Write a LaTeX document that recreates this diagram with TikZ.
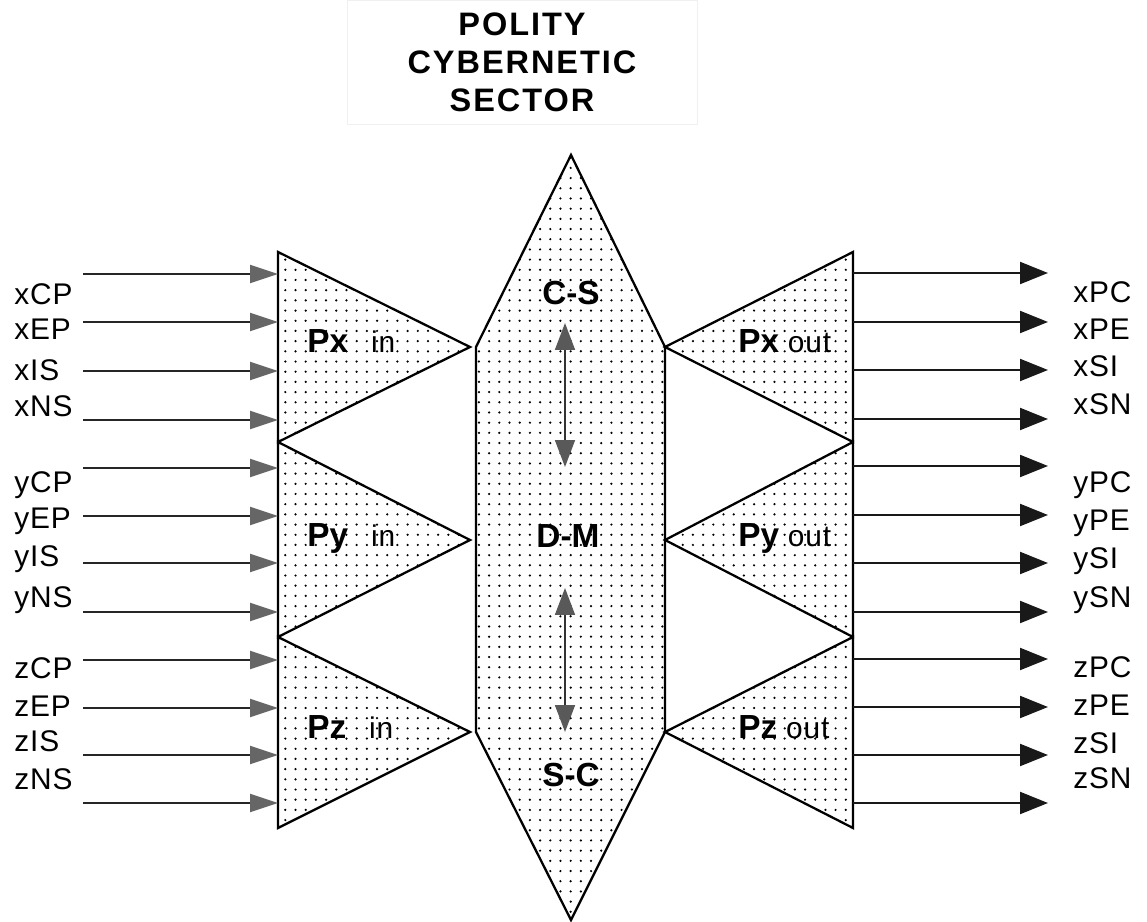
\documentclass[tikz,border=0pt]{standalone}
\usepackage{fontspec}
\setmainfont{Liberation Sans}
\newfontfamily\titlefont[LetterSpace=6]{Liberation Sans}
\newfontfamily\lblfont[LetterSpace=3]{Liberation Sans}
\usetikzlibrary{arrows.meta,patterns.meta}
\newcommand{\tagbf}[1]{{\fontsize{19}{22}\selectfont\bfseries #1}}
\newcommand{\tagsub}[1]{{\lblfont\fontsize{17}{20}\selectfont #1}}

\begin{document}
\begin{tikzpicture}[
    x=0.02cm, y=-0.02cm,
    dotshape/.style={draw=black, line width=1.3pt, line join=miter, pattern={Dots[distance=5.8pt, radius=0.7pt]}, pattern color=black},
    sig/.style={font=\lblfont\fontsize{17}{20}\selectfont, anchor=base west, inner sep=0pt},
    tag/.style={font=\bfseries\fontsize{19}{22}\selectfont, inner sep=0pt},
    stagelbl/.style={anchor=base west, inner sep=0pt},
    titlebox/.style={draw=black!6, minimum width=7cm, minimum height=2.48cm, align=center, font=\titlefont\bfseries\fontsize{18.5}{21.6}\selectfont},
    inarrow/.style={line width=1.2pt, draw=black!85, -{Triangle[length=0.56cm, width=0.36cm, color=black!60]}},
    outarrow/.style={line width=1.2pt, draw=black!90, -{Triangle[length=0.56cm, width=0.44cm]}},
    linkarrow/.style={line width=1pt, draw=black!80, {Triangle[length=0.54cm, width=0.4cm, color=black!65]}-{Triangle[length=0.54cm, width=0.4cm, color=black!65]}}
]
\useasboundingbox (0,0) rectangle (1147,922);

% Title
\node[titlebox] (title) at (522,62) {POLITY\\CYBERNETIC\\SECTOR};

% Central decision body
\draw[dotshape] (571,155) -- (665,347) -- (665,732) -- (571,920) -- (476,732) -- (476,347) -- cycle;

% Input and output stages
\foreach \t/\m/\b in {252/347/442, 442/540/637, 637/732/828}
{
  \draw[dotshape] (278,\t) -- (470,\m) -- (278,\b) -- cycle;
  \draw[dotshape] (853,\t) -- (665,\m) -- (853,\b) -- cycle;
}

\foreach \g/\yb in {x/353, y/546, z/738}
{
  \node[stagelbl] (P\g in) at (307,\yb) {\tagbf{P\g}\hspace{13pt}\tagsub{in}};
  \node[stagelbl] (P\g out) at (738,\yb) {\tagbf{P\g}\hspace{5pt}\tagsub{out}};
}

% Central labels
\node[tag] (cs) at (571,293) {C-S};
\node[tag] (dm) at (568,536) {D-M};
\node[tag] (sc) at (571,775) {S-C};

\coordinate (cs-a) at (565,323);
\coordinate (cs-b) at (565,467);
\coordinate (sc-a) at (565,588);
\coordinate (sc-b) at (565,732);
\draw[linkarrow] (cs-a) -- (cs-b);
\draw[linkarrow] (sc-a) -- (sc-b);

% Inputs
\foreach \nm/\ya/\yb in {xCP/274/305, xEP/322/340, xIS/371/380, xNS/420/417,
                         yCP/468/492, yEP/516/528, yIS/563/566, yNS/612/607,
                         zCP/660/678, zEP/708/716, zIS/755/751, zNS/803/789}
{
  \node[sig] (\nm) at (14,\yb) {\nm};
  \coordinate (\nm-s) at (83,\ya);
  \coordinate (\nm-e) at (278,\ya);
  \draw[inarrow] (\nm-s) -- (\nm-e);
}

% Outputs
\foreach \nm/\ya/\yb in {xPC/273/303, xPE/322/340, xSI/370/377, xSN/419/415,
                         yPC/466/492, yPE/515/530, ySI/563/568, ySN/612/607,
                         zPC/659/677, zPE/707/715, zSI/755/753, zSN/803/788}
{
  \node[sig] (\nm) at (1073,\yb) {\nm};
  \coordinate (\nm-s) at (853,\ya);
  \coordinate (\nm-e) at (1048,\ya);
  \draw[outarrow] (\nm-s) -- (\nm-e);
}

\end{tikzpicture}
\end{document}
